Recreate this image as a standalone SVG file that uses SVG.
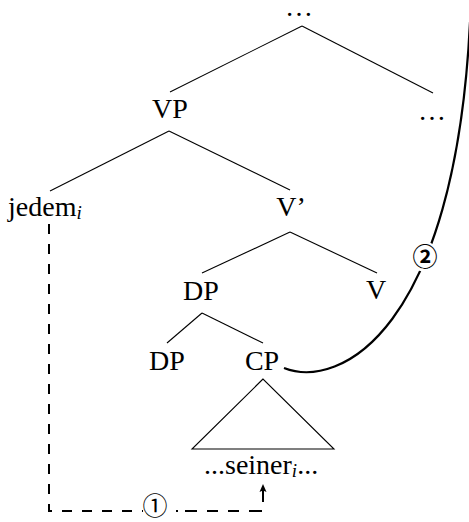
<svg xmlns="http://www.w3.org/2000/svg" width="469" height="522" viewBox="0 0 469 522">
<style>
  text { font-family: "Liberation Serif", "Times New Roman", serif; font-size: 28px; fill: #000; }
  .sub { font-size: 19px; font-style: italic; }
  .edge { stroke: #000; stroke-width: 1.1; fill: none; }
  .dash { stroke: #000; stroke-width: 2; fill: none; }
  .curve { stroke: #000; stroke-width: 2.2; fill: none; }
  .circ { font-family: "Noto Sans CJK JP", "DejaVu Sans", sans-serif; font-size: 25px; }
</style>
<rect width="469" height="522" fill="#fff"/>
<g id="connectors">
  <line class="edge" x1="302" y1="26" x2="170" y2="92"/>
  <line class="edge" x1="302" y1="26" x2="433" y2="93"/>
  <line class="edge" x1="169" y1="131" x2="50" y2="191"/>
  <line class="edge" x1="169" y1="131" x2="290" y2="190"/>
  <line class="edge" x1="290" y1="232" x2="202" y2="273"/>
  <line class="edge" x1="290" y1="232" x2="377" y2="273"/>
  <line class="edge" x1="202" y1="313" x2="167" y2="343"/>
  <line class="edge" x1="202" y1="313" x2="263" y2="343"/>
  <polygon class="edge" points="263,379 192,449 334,449"/>
  <path id="movement2" class="curve" d="M 284 368 C 340 390, 455 330, 470 22"/>
  <circle cx="425" cy="257" r="15" fill="#fff"/>
  <path id="movement1a" class="dash" d="M 49 224 V 511 H 143" stroke-dasharray="10 10"/>
  <path id="movement1b" class="dash" d="M 263 490 V 511 H 176" stroke-dasharray="12 10 13 10 11 10 11 10 12 7 2 100"/>
  <path d="M 263 484 L 259.5 492 L 263 490.5 L 266.5 492 Z" fill="#000"/>
</g>
<g id="n-top"><text x="299" y="16" text-anchor="middle">…</text></g>
<g id="n-VP"><text x="170" y="118" text-anchor="middle">VP</text></g>
<g id="n-dots-right"><text x="432" y="120" text-anchor="middle">…</text></g>
<g id="n-jedem"><text x="8" y="216">jedem<tspan class="sub" dy="3">i</tspan></text></g>
<g id="n-Vbar"><text x="291" y="216" text-anchor="middle">V’</text></g>
<g id="n-DP1"><text x="201" y="300" text-anchor="middle">DP</text></g>
<g id="n-V"><text x="376" y="299" text-anchor="middle">V</text></g>
<g id="n-DP2"><text x="167" y="370" text-anchor="middle">DP</text></g>
<g id="n-CP"><text x="262" y="370" text-anchor="middle">CP</text></g>
<g id="n-seiner"><text x="204" y="474">...seiner<tspan class="sub" dy="3">i</tspan><tspan dy="-3">...</tspan></text></g>
<g id="label1"><text class="circ" x="155" y="515" text-anchor="middle">①</text></g>
<g id="label2"><text class="circ" x="425" y="266" text-anchor="middle" font-weight="bold">②</text></g>
</svg>
